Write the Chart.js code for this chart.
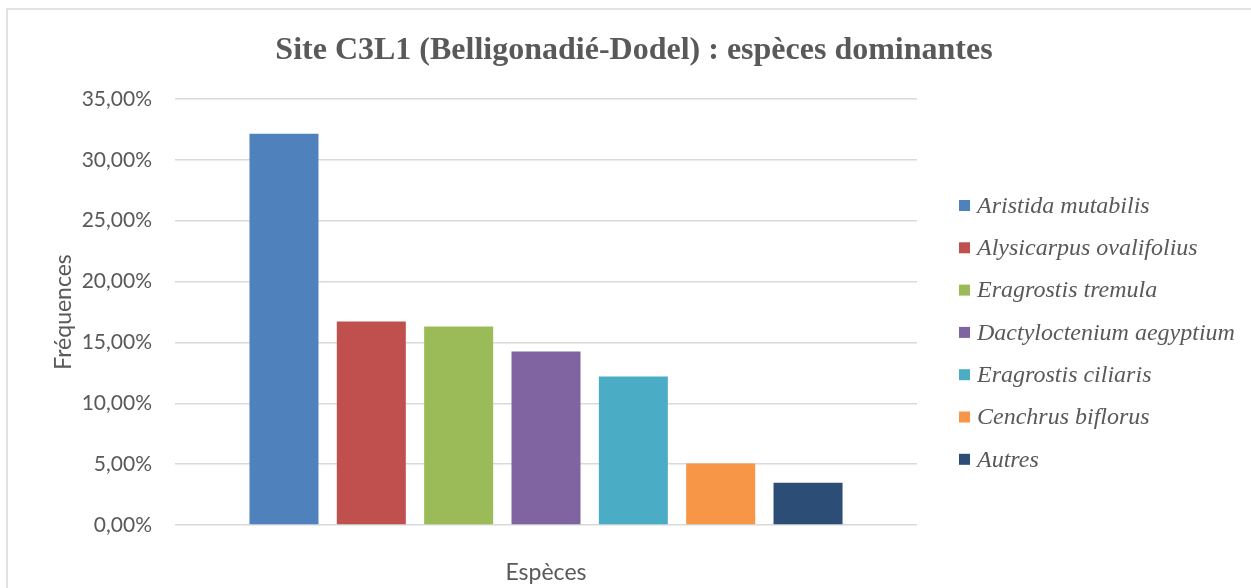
<!DOCTYPE html>
<html lang="fr">
<head>
<meta charset="utf-8">
<title>Site C3L1 (Belligonadié-Dodel) : espèces dominantes</title>
<script src="https://cdn.jsdelivr.net/npm/chart.js@4.4.1/dist/chart.umd.min.js"></script>
<style>
  html, body { margin: 0; padding: 0; background: #ffffff; }
  #wrap { width: 1251px; height: 588px; }
</style>
</head>
<body>
<div id="wrap"><canvas id="chartEspeces" width="1251" height="588"></canvas></div>
<script>
// Fréquences relatives des espèces dominantes (site C3L1)
var TITLE = 'Site C3L1 (Belligonadié-Dodel) : espèces dominantes';
var SPECIES = ['Aristida mutabilis', 'Alysicarpus ovalifolius', 'Eragrostis tremula',
  'Dactyloctenium aegyptium', 'Eragrostis ciliaris', 'Cenchrus biflorus', 'Autres'];
var FREQUENCIES = [0.3215, 0.1672, 0.1631, 0.1426, 0.1221, 0.0505, 0.0348];
var COLORS = ['#4F81BD', '#C0504D', '#9BBB59', '#8064A2', '#4BACC6', '#F79646', '#2C4D75'];
var Y_MIN = 0, Y_MAX = 0.35, Y_STEP = 0.05;

var TEXT_GREY = '#595959';
var LINE_GREY = '#d9d9d9';

// one dataset per species so each bar gets its own legend entry
var datasets = SPECIES.map(function (name, i) {
  return {
    label: name,
    data: [FREQUENCIES[i]],
    backgroundColor: COLORS[i],
    borderWidth: 0,
    categoryPercentage: 0.824,
    barPercentage: 0.79
  };
});

function formatPercent(v) {
  return (v * 100).toFixed(2).replace('.', ',') + '%';
}

// frame, centred title and right-hand legend (drawn by hand for exact placement)
var decorPlugin = {
  id: 'decor',
  beforeDraw: function (chart) {
    var ctx = chart.ctx;
    ctx.save();
    ctx.fillStyle = '#ffffff';
    ctx.fillRect(0, 0, chart.width, chart.height);
    ctx.strokeStyle = LINE_GREY;
    ctx.lineWidth = 1.5;
    ctx.beginPath();
    ctx.moveTo(7, chart.height);
    ctx.lineTo(7, 9);
    ctx.lineTo(chart.width, 9);
    ctx.stroke();
    ctx.restore();
  },
  afterDraw: function (chart) {
    var ctx = chart.ctx;
    ctx.save();
    ctx.fillStyle = TEXT_GREY;
    ctx.font = 'bold 32px "Liberation Serif", "Times New Roman", serif';
    ctx.textAlign = 'center';
    ctx.textBaseline = 'alphabetic';
    ctx.fillText(TITLE, 634, 59);

    ctx.font = 'italic 24px "Liberation Serif", "Times New Roman", serif';
    ctx.textAlign = 'left';
    chart.data.datasets.forEach(function (ds, i) {
      var y = 200 + i * 42.3;
      ctx.fillStyle = ds.backgroundColor;
      ctx.fillRect(959, y, 11, 11);
      ctx.fillStyle = TEXT_GREY;
      ctx.fillText(ds.label, 977, y + 12.7);
    });
    ctx.restore();
  }
};

var ctx = document.getElementById('chartEspeces');
var chart = new Chart(ctx, {
  type: 'bar',
  data: {
    labels: [''],
    datasets: datasets
  },
  options: {
    responsive: false,
    animation: false,
    layout: { padding: { top: 99, right: 334, bottom: 0, left: 0 } },
    plugins: {
      legend: { display: false },
      title: { display: false },
      tooltip: { enabled: false }
    },
    scales: {
      x: {
        grid: { display: false },
        border: { display: false },
        ticks: { display: false },
        title: {
          display: true,
          text: 'Espèces',
          color: TEXT_GREY,
          font: { family: 'Lato', size: 23 },
          padding: { top: 30, bottom: 2 }
        },
        afterFit: function (axis) { axis.height = 63; }
      },
      y: {
        min: Y_MIN,
        max: Y_MAX,
        border: { display: false },
        grid: { color: LINE_GREY, lineWidth: 1.4, drawTicks: false },
        ticks: {
          stepSize: Y_STEP,
          padding: 23,
          color: TEXT_GREY,
          font: { family: 'Lato', size: 21 },
          callback: function (v) { return formatPercent(v); }
        },
        title: {
          display: true,
          text: 'Fréquences',
          color: TEXT_GREY,
          font: { family: 'Lato', size: 23 },
          padding: { top: 50, bottom: 0 }
        },
        afterFit: function (axis) { axis.width = 175; }
      }
    }
  },
  plugins: [decorPlugin]
});
</script>
</body>
</html>
